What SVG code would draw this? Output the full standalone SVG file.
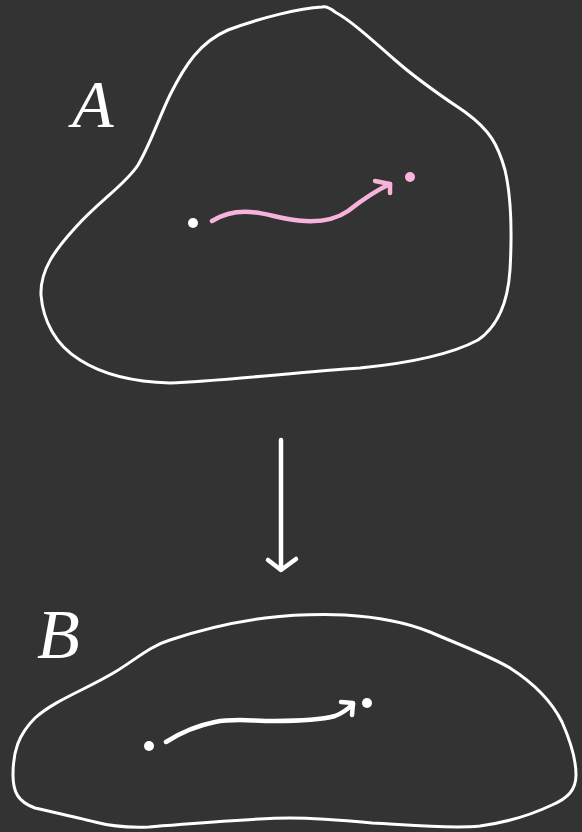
<svg xmlns="http://www.w3.org/2000/svg" width="582" height="832" viewBox="0 0 582 832">
<style>
.blob{fill:none;stroke:#ffffff;stroke-width:3;stroke-linejoin:round;stroke-linecap:round}
.arr{fill:none;stroke-width:4.5;stroke-linecap:round;stroke-linejoin:round}
.lbl{fill:#ffffff;font-family:"Liberation Serif",serif;font-style:italic}
</style>
<rect width="582" height="832" fill="#333333"/>
<g id="setA">
<path class="blob" d="M322,7 C300,8 260,18 228,30 C200,42 185,65 170,95 C158,120 150,145 138,165 C125,185 100,200 75,228 C55,250 40,270 41,295 C43,320 55,345 80,360 C105,376 135,382 170,383 C220,381 300,372 360,368 C410,363 450,355 478,340 C500,325 508,300 510,270 C512,235 512,200 505,170 C498,145 490,130 465,112 C440,95 420,82 395,60 C370,38 350,20 335,12 C330,8 326,6 322,7 Z"/>
<text class="lbl" x="72" y="127" font-size="68">A</text>
<circle cx="193" cy="223" r="5" fill="#ffffff"/>
<circle cx="410" cy="177" r="5" fill="#f8b3dc"/>
</g>
<g id="setB">
<path class="blob" d="M345,615 C380,617 405,622 430,632 C460,645 490,656 510,668 C535,684 552,702 562,722 C570,740 576,758 576,775 C576,790 568,798 552,805 C535,813 510,822 480,826 C450,829 410,825 372,823 C340,820 315,818 290,818 C250,818 190,824 149,827 C125,828 110,826 95,822 C75,817 52,812 35,808 C18,802 13,792 13,775 C13,752 18,735 35,718 C55,700 85,690 115,672 C135,660 150,646 170,640 C200,630 235,622 265,618 C290,615 318,614 345,615 Z"/>
<text class="lbl" x="37" y="658" font-size="70">B</text>
<circle cx="149" cy="746" r="5" fill="#ffffff"/>
<circle cx="367" cy="703" r="5" fill="#ffffff"/>
</g>
<g id="connectors">
<path class="arr" stroke="#f8b3dc" d="M212,221 C222,215 235,211 250,212 C268,213 282,220 305,221 C325,222 338,218 348,211 C362,200 375,191 390,184"/>
<path class="arr" stroke="#f8b3dc" d="M375,181 L390,184 L390,193"/>
<path class="arr" stroke="#ffffff" d="M166,742 C180,733 195,726 215,722 C235,718 250,721 275,721 C300,721 320,720 335,716 C343,713 348,709 353,704"/>
<path class="arr" stroke="#ffffff" d="M341,702 L353,703 L352,715"/>
<path class="arr" stroke="#ffffff" stroke-width="4" d="M281,440 L281,569"/>
<path class="arr" stroke="#ffffff" stroke-width="4" d="M268,560 L281,570 L296,559"/>
</g>
</svg>
